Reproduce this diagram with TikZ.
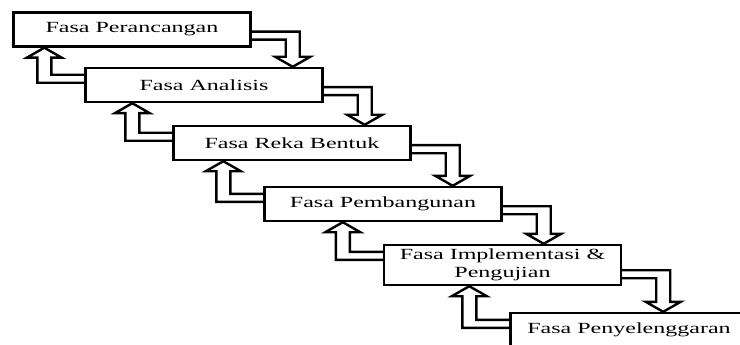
\documentclass[tikz,border=0pt]{standalone}
\usepackage{fontspec}
\usepackage{tikz}
\usetikzlibrary{calc}

\newfontfamily\phasefont[FakeStretch=1.55]{Liberation Serif}

\tikzset{
    phase/.style={draw, line width=2.4pt, minimum width=237pt, minimum height=34pt,
        inner sep=0pt, align=center, font={\phasefont\fontsize{15.5}{18}\selectfont}},
    conn/.style={draw, line width=2.4pt, line join=miter}
}

\begin{document}
\begin{tikzpicture}[x=1pt, y=-1pt]
        \useasboundingbox (0,0) rectangle (740,345);
        \clip (0,0) rectangle (740,345);

        \node[phase] (p1) at (132, 29.5) {Fasa Perancangan};
        \node[phase] (p2) at (204, 85) {Fasa Analisis};
        \node[phase] (p3) at (292, 143) {Fasa Reka Bentuk};
        \node[phase] (p4) at (383, 204) {Fasa Pembangunan};
        \node[phase, minimum height=40pt] (p5) at (502.5, 265) {Fasa Implementasi \&\\Pengujian};
        \node[phase] (p6) at (629, 330) {Fasa Penyelenggaran};

        % down arrows (to next phase) and up arrows (back to previous phase)
        \foreach \a/\b in {p1/p2, p2/p3, p3/p4, p4/p5, p5/p6} {
            \coordinate (s) at ($(\a.south east)+(0,-12)$);
            \coordinate (t) at ($(\a.east |- \b.north)+(41,0)$);
            \draw[conn] ($(s)+(0,-4)$) -| ($(t)+(7,-10)$) -- ++(10.5,0) -- (t)
                -- ++(-17.5,-10) -- ++(10.5,0) |- ($(s)+(0,4)$);

            \coordinate (u) at ($(\b.north west)+(0,12)$);
            \coordinate (v) at ($(\b.west |- \a.south)+(-40,0)$);
            \draw[conn] ($(u)+(0,4)$) -| ($(v)+(-7,10)$) -- ++(-10.5,0) -- (v)
                -- ++(17.5,10) -- ++(-10.5,0) |- ($(u)+(0,-4)$);
        }
    \end{tikzpicture}
\end{document}
